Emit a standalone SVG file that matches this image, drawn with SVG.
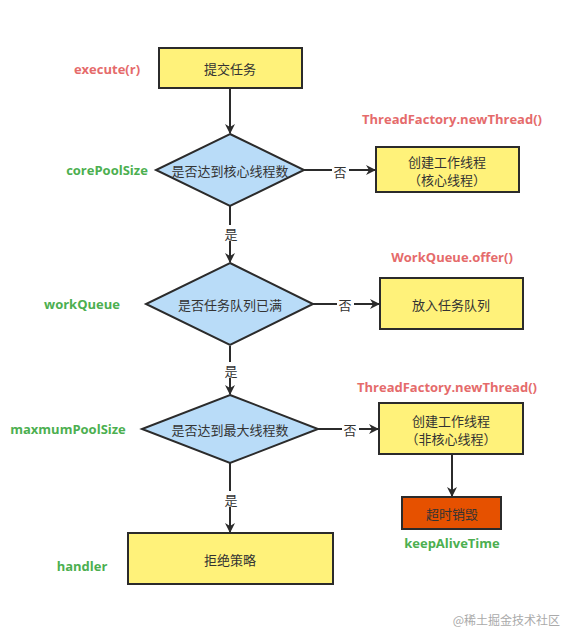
<svg xmlns="http://www.w3.org/2000/svg" width="577" height="642" viewBox="0 0 577 642">
<style>
.box{fill:#fff27a;stroke:#2b2b2b;stroke-width:2}
.dia{fill:#b9dcf8;stroke:#2b2b2b;stroke-width:2}
.orange{fill:#e65100;stroke:#2b2b2b;stroke-width:2}
.t{font-family:"Noto Sans CJK SC","Liberation Sans",sans-serif;font-size:13px;fill:#333;text-anchor:middle;dominant-baseline:central}
.red{font-family:"Open Sans","Liberation Sans",sans-serif;font-weight:bold;font-size:13px;fill:#e56b6b;text-anchor:middle;dominant-baseline:central}
.green{font-family:"Open Sans","Liberation Sans",sans-serif;font-weight:bold;font-size:13px;fill:#4caf50;text-anchor:middle;dominant-baseline:central}
.edge{stroke:#2b2b2b;stroke-width:2;fill:none;marker-end:url(#arr)}
.lbl{font-family:"Noto Sans CJK SC","Liberation Sans",sans-serif;font-size:13px;fill:#333;text-anchor:middle;dominant-baseline:central}
.wm{font-family:"Noto Sans CJK SC","Liberation Sans",sans-serif;font-size:12px;fill:#aaa;text-anchor:end;dominant-baseline:central}
</style>
<defs>
<marker id="arr" markerWidth="10" markerHeight="10" refX="9" refY="5" orient="auto" markerUnits="userSpaceOnUse">
<path d="M0,0 L10,5 L0,10 L3,5 Z" fill="#2b2b2b"/>
</marker>
</defs>
<rect width="577" height="642" fill="#fff"/>
<g id="connectors">
<line class="edge" x1="230" y1="88" x2="230" y2="133"/>
<line class="edge" x1="304" y1="170" x2="375" y2="170"/>
<line class="edge" x1="230" y1="206" x2="230" y2="262"/>
<line class="edge" x1="313" y1="304" x2="379" y2="304"/>
<line class="edge" x1="230" y1="346" x2="230" y2="394"/>
<line class="edge" x1="318" y1="429" x2="378" y2="429"/>
<line class="edge" x1="452" y1="455" x2="452" y2="496"/>
<line class="edge" x1="230" y1="463" x2="230" y2="532"/>
<g>
<rect x="332" y="162" width="17" height="16" fill="#fff"/>
<text class="lbl" x="340" y="171">否</text>
<rect x="337" y="296" width="17" height="16" fill="#fff"/>
<text class="lbl" x="345" y="304">否</text>
<rect x="342" y="421" width="17" height="16" fill="#fff"/>
<text class="lbl" x="350" y="429">否</text>
<rect x="222" y="225" width="17" height="16" fill="#fff"/>
<text class="lbl" x="231" y="233">是</text>
<rect x="222" y="362" width="17" height="16" fill="#fff"/>
<text class="lbl" x="231" y="370">是</text>
<rect x="222" y="491" width="17" height="16" fill="#fff"/>
<text class="lbl" x="231" y="499">是</text>
</g>
</g>
<g id="submit">
<rect class="box" x="159" y="48" width="143" height="40"/>
<text class="t" x="230" y="68">提交任务</text>
</g>
<g id="check-core">
<polygon class="dia" points="230,134 304,170 230,206 156,170"/>
<text class="t" x="230" y="170">是否达到核心线程数</text>
</g>
<g id="create-core">
<rect class="box" x="376" y="147" width="143" height="45"/>
<text class="t" x="447" y="161">创建工作线程</text>
<text class="t" x="447" y="179">（核心线程）</text>
</g>
<g id="check-queue">
<polygon class="dia" points="230,263 313,304 230,345 146,304"/>
<text class="t" x="230" y="304">是否任务队列已满</text>
</g>
<g id="enqueue">
<rect class="box" x="380" y="278" width="143" height="51"/>
<text class="t" x="451" y="304">放入任务队列</text>
</g>
<g id="check-max">
<polygon class="dia" points="230,395 318,429 230,463 142,429"/>
<text class="t" x="230" y="429">是否达到最大线程数</text>
</g>
<g id="create-noncore">
<rect class="box" x="379" y="403" width="144" height="51"/>
<text class="t" x="451" y="420">创建工作线程</text>
<text class="t" x="451" y="438">（非核心线程）</text>
</g>
<g id="timeout">
<rect class="orange" x="402" y="497" width="99" height="32"/>
<text class="t" x="452" y="513">超时销毁</text>
</g>
<g id="reject">
<rect class="box" x="128" y="533" width="205" height="51"/>
<text class="t" x="230" y="559">拒绝策略</text>
</g>
<g id="labels">
<text class="red" x="107" y="69">execute(r)</text>
<text class="green" x="107" y="170">corePoolSize</text>
<text class="green" x="82" y="304">workQueue</text>
<text class="green" x="68" y="429">maxmumPoolSize</text>
<text class="green" x="82" y="566">handler</text>
<text class="red" x="452" y="119">ThreadFactory.newThread()</text>
<text class="red" x="452" y="257">WorkQueue.offer()</text>
<text class="red" x="447" y="387">ThreadFactory.newThread()</text>
<text class="green" x="452" y="543">keepAliveTime</text>
<text class="wm" x="560" y="619">@稀土掘金技术社区</text>
</g>
</svg>
